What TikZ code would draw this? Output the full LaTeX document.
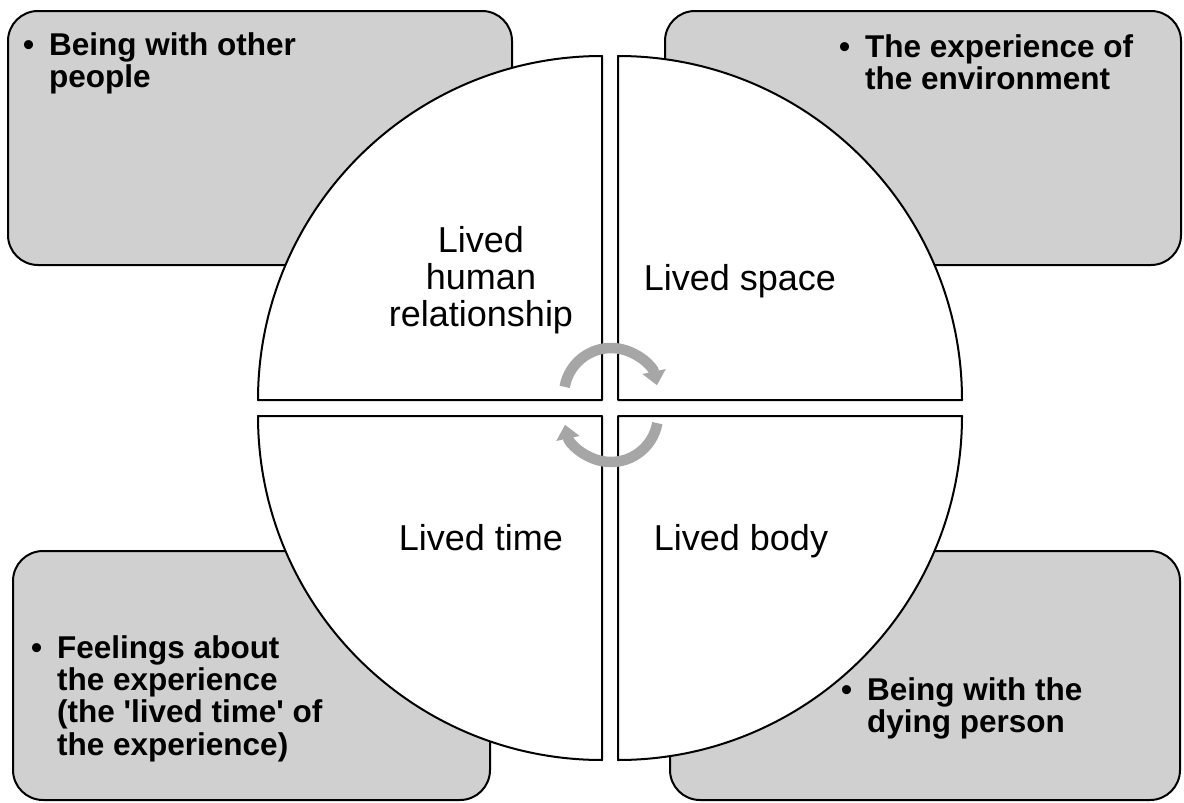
\documentclass[tikz,border=0pt]{standalone}
\usepackage{fontspec}
\setmainfont{Liberation Sans}
\usetikzlibrary{arrows.meta}
\definecolor{boxgray}{HTML}{D0D0D0}
\definecolor{arrgray}{HTML}{A6A6A6}
\begin{document}
\begin{tikzpicture}[x=1pt,y=1pt,
  box/.style={draw=black, line width=2pt, fill=boxgray, rounded corners=30pt, rectangle, inner sep=0pt},
  quad/.style={draw=black, line width=2pt, fill=white, line join=round},
  lbl/.style={inner sep=0pt, font=\fontsize{36}{37}\selectfont},
  bul/.style={inner sep=0pt, anchor=base west, font=\bfseries\fontsize{31.5}{32}\selectfont},
  cyc/.style={draw=arrgray, line width=10.5pt, -{Triangle[length=14pt,width=23pt]}}]
\useasboundingbox (0,0) rectangle (1184,-803);
% outer boxes
\node[box, minimum width=504pt, minimum height=254pt] (b1) at (260,-138) {};
\node[box, minimum width=516pt, minimum height=254pt] (b2) at (923,-138) {};
\node[box, minimum width=477pt, minimum height=249pt] (b3) at (251.5,-675.5) {};
\node[box, minimum width=510pt, minimum height=249pt] (b4) at (925,-675.5) {};
% box texts
\node[bul] (t1) at (49,-55) {\begin{tabular}[t]{@{}l@{}}\llap{\textbullet\hspace{15pt}}Being with other\\people\end{tabular}};
\node[bul] (t2) at (865,-57) {\begin{tabular}[t]{@{}l@{}}\llap{\textbullet\hspace{15pt}}The experience of\\the environment\end{tabular}};
\node[bul] (t3) at (57,-658) {\begin{tabular}[t]{@{}l@{}}\llap{\textbullet\hspace{15pt}}Feelings about\\the experience\\(the \textquotesingle lived time\textquotesingle{} of\\the experience)\end{tabular}};
\node[bul] (t4) at (867,-700) {\begin{tabular}[t]{@{}l@{}}\llap{\textbullet\hspace{15pt}}Being with the\\dying person\end{tabular}};
% quadrants
\draw[quad] (602,-400) -- ++(-344,0) arc (180:90:344) -- cycle;
\draw[quad] (618,-400) -- ++(0,344) arc (90:0:344) -- cycle;
\draw[quad] (618,-416) -- ++(344,0) arc (0:-90:344) -- cycle;
\draw[quad] (602,-416) -- ++(0,-344) arc (270:180:344) -- cycle;
% quadrant labels
\node[lbl, align=center] (q1) at (481,-280) {Lived\\human\\relationship};
\node[lbl, anchor=base] (q2) at (740,-290) {Lived space};
\node[lbl, anchor=base] (q3) at (481,-550) {Lived time};
\node[lbl, anchor=base] (q4) at (741,-550) {Lived body};
% circular arrows
\coordinate (ac1) at (611,-395);
\coordinate (ac2) at (611,-415);
\draw[cyc] ([shift={(170:47)}]ac1) arc (170:12:47);
\draw[cyc] ([shift={(-10:47)}]ac2) arc (-10:-168:47);
\end{tikzpicture}
\end{document}
